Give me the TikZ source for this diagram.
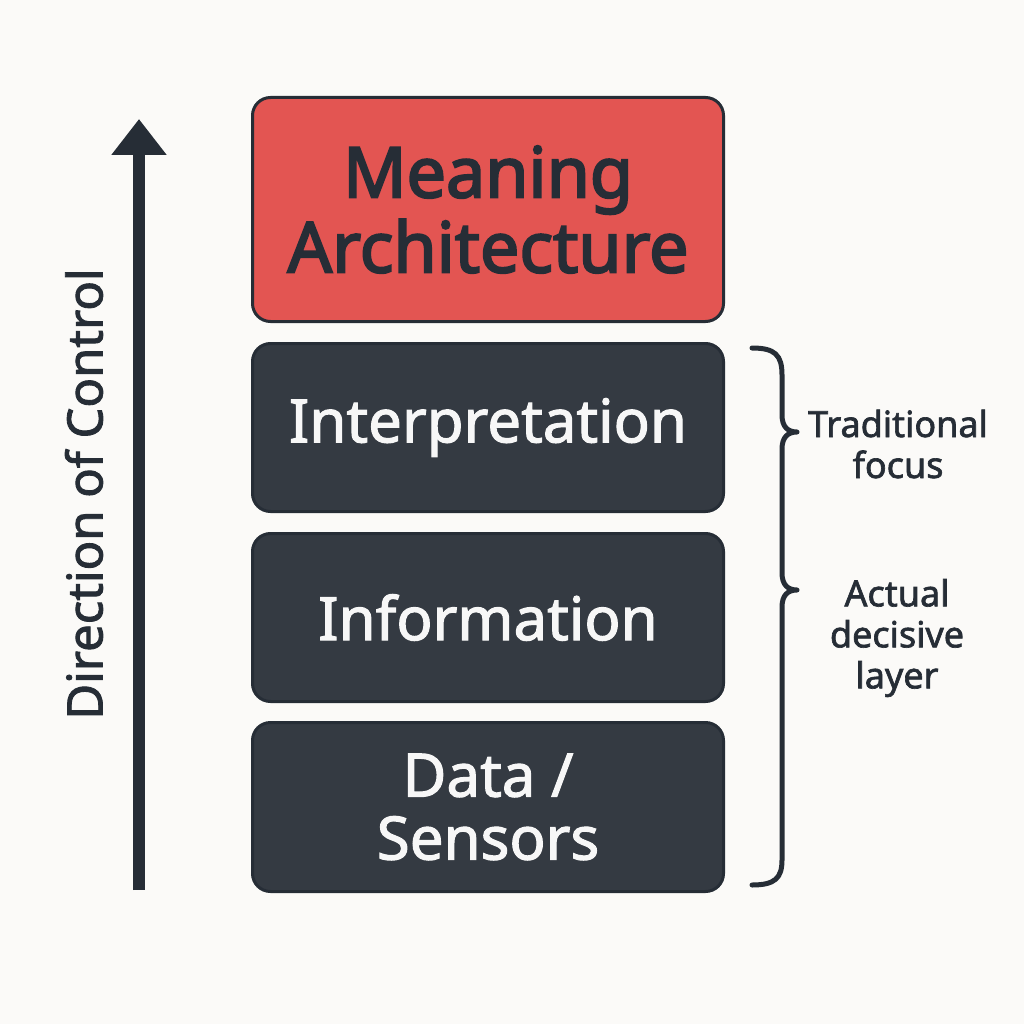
\documentclass[tikz,border=0pt]{standalone}
\usepackage{fontspec}
\setmainfont{Noto Sans}
\newfontfamily\heavyfont[FakeBold=3]{Noto Sans}
\newfontfamily\medfont[FakeBold=1.8]{Noto Sans}
\usetikzlibrary{arrows.meta}
\definecolor{bg}{HTML}{FBFAF8}
\definecolor{ink}{HTML}{262D36}
\definecolor{redfill}{HTML}{E35552}
\definecolor{darkfill}{HTML}{343A42}
\definecolor{boxtext}{HTML}{F7F7F7}
\tikzset{
  layer/.style={rounded corners=18pt, line width=3pt, draw=ink, minimum width=471pt, anchor=north west, inner sep=0pt, align=center},
  redlayer/.style={layer, fill=redfill, text=ink, font=\heavyfont\fontsize{70}{75}\selectfont},
  darklayer/.style={layer, fill=darkfill, text=boxtext, font=\medfont\fontsize{60}{63}\selectfont},
  sidetext/.style={text=ink, align=center, font=\medfont\fontsize{36}{41}\selectfont},
  brace/.style={draw=ink, line width=5pt, line cap=round, line join=round},
}
\begin{document}
\begin{tikzpicture}[x=1pt,y=-1pt]
\fill[bg] (0,0) rectangle (1024,1024);
\useasboundingbox (0,0) rectangle (1024,1024);
\node[redlayer, minimum height=224pt] (meaning) at (251,96) {Meaning\\Architecture};
\node[darklayer, minimum height=168pt] (interp) at (251,342) {Interpretation};
\node[darklayer, minimum height=168pt] (info) at (251,532) {Information};
\node[darklayer, minimum height=169pt] (data) at (251,721) {Data /\\Sensors};
\coordinate (abot) at (139,890);
\coordinate (atop) at (139,119);
\draw[ink, line width=12pt, -{Triangle[length=36pt,width=53pt]}] (abot) -- (atop);
\node[text=ink, rotate=90, font=\medfont\fontsize{49}{50}\selectfont] (dir) at (84,494) {Direction of Control};
\draw[brace] (752,348) .. controls (775,348) and (782,355) .. (782,375) -- (782,415) .. controls (782,427) and (788,432) .. (797,432) .. controls (788,432) and (782,437) .. (782,449) -- (782,573) .. controls (782,585) and (788,590) .. (797,590) .. controls (788,590) and (782,595) .. (782,607) -- (782,860) .. controls (782,878) and (775,885) .. (752,885);
\node[sidetext] (trad) at (898,444) {Traditional\\focus};
\node[sidetext] (actual) at (897,638) {Actual\\decisive\\layer};
\end{tikzpicture}
\end{document}
